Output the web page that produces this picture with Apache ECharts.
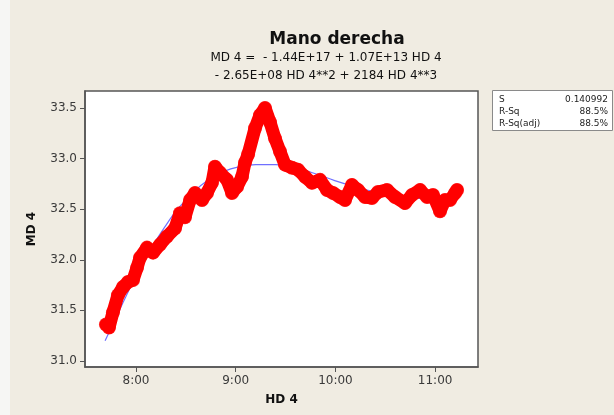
<!DOCTYPE html>
<html>
<head>
<meta charset="utf-8">
<style>
  html, body { margin: 0; padding: 0; background: #F0ECE2; }
  #chart { width: 614px; height: 415px; }
</style>
<script src="https://cdn.jsdelivr.net/npm/echarts@6/dist/echarts.min.js"></script>
</head>
<body>
<div id="chart"></div>
<script>
// time of day in hours (HD 4) and measured MD 4
const hd4 = [7.699, 7.729, 7.769, 7.819, 7.870, 7.920, 7.970, 8.010, 8.040, 8.110,
  8.171, 8.241, 8.311, 8.391, 8.441, 8.491, 8.542, 8.592, 8.662, 8.712,
  8.762, 8.792, 8.843, 8.913, 8.963, 9.013, 9.063, 9.093, 9.124, 9.194,
  9.244, 9.294, 9.344, 9.394, 9.444, 9.494, 9.565, 9.625, 9.695, 9.765,
  9.846, 9.916, 9.976, 10.046, 10.096, 10.166, 10.227, 10.297, 10.367, 10.427,
  10.518, 10.598, 10.698, 10.768, 10.849, 10.919, 10.979, 11.049, 11.099, 11.149,
  11.200, 11.220];
const md4 = [31.36, 31.33, 31.48, 31.65, 31.73, 31.78, 31.80, 31.92, 32.02, 32.12,
  32.07, 32.15, 32.23, 32.31, 32.46, 32.42, 32.59, 32.66, 32.59, 32.66,
  32.76, 32.92, 32.86, 32.79, 32.66, 32.72, 32.82, 32.96, 33.04, 33.30,
  33.43, 33.50, 33.36, 33.20, 33.07, 32.94, 32.91, 32.89, 32.82, 32.76,
  32.79, 32.69, 32.66, 32.62, 32.59, 32.74, 32.69, 32.62, 32.61, 32.67,
  32.69, 32.62, 32.56, 32.64, 32.69, 32.62, 32.64, 32.48, 32.59, 32.59,
  32.66, 32.69];

// fitted cubic
const fitX = [7.69, 7.8, 7.9, 8.0, 8.1, 8.2, 8.3, 8.4, 8.5, 8.6, 8.7, 8.8, 8.9, 9.0,
  9.2, 9.4, 9.6, 9.8, 10.0, 10.2, 10.4, 10.6, 10.8, 11.0, 11.22];
const fitY = [31.20, 31.43, 31.64, 31.84, 32.02, 32.19, 32.34, 32.48, 32.59, 32.69,
  32.77, 32.83, 32.88, 32.91, 32.94, 32.94, 32.91, 32.85, 32.78, 32.72,
  32.67, 32.63, 32.61, 32.60, 32.61];

const xTicks = [8, 9, 10, 11];
const yTicks = [31.0, 31.5, 32.0, 32.5, 33.0, 33.5];

const titleText = 'Mano derecha';
const equation = 'MD 4 =  - 1.44E+17 + 1.07E+13 HD 4\n- 2.65E+08 HD 4**2 + 2184 HD 4**3';
const statNames = ['S', 'R-Sq', 'R-Sq(adj)'];
const statValues = ['0.140992', '88.5%', '88.5%'];

const chart = echarts.init(document.getElementById('chart'));

const points = hd4.map((x, i) => [x, md4[i]]);
const fit = fitX.map((x, i) => [x, fitY[i]]);

const fmtTime = (v) => Math.round(v) + ':00';

const statGraphics = [
  {
    type: 'rect',
    left: 492, top: 90,
    shape: { width: 120, height: 40 },
    style: { fill: '#fff', stroke: '#8a8a8a', lineWidth: 1 },
  },
];
statNames.forEach((n, i) => {
  statGraphics.push({
    type: 'text', left: 499, top: 95 + i * 12,
    style: { text: n, font: '9px "DejaVu Sans"', fill: '#222' },
  });
  statGraphics.push({
    type: 'text', right: 6, top: 95 + i * 12,
    style: { text: statValues[i], font: '9px "DejaVu Sans"', fill: '#222', textAlign: 'right' },
  });
});

const option = {
  backgroundColor: '#F0ECE2',
  animation: false,
  title: [
    {
      text: titleText,
      left: 332, top: 26, textAlign: 'center',
      textStyle: { fontFamily: 'DejaVu Sans', fontSize: 17, fontWeight: 'bold', color: '#111' },
    },
    {
      text: equation,
      left: 321, top: 44, textAlign: 'center',
      textStyle: { fontFamily: 'DejaVu Sans', fontSize: 12, fontWeight: 'normal', color: '#111', lineHeight: 18, align: 'left' },
    },
  ],
  graphic: [
    { type: 'rect', left: 0, top: 0, shape: { width: 10, height: 415 }, style: { fill: '#F6F6F4' } },
    ...statGraphics,
  ],
  grid: {
    left: 85, top: 91, width: 393, height: 276,
    show: true, backgroundColor: '#fff', borderColor: '#555', borderWidth: 1.5,
  },
  xAxis: {
    type: 'value',
    min: 7.4885, max: 11.43,
    name: 'HD 4', nameLocation: 'middle', nameGap: 27,
    nameTextStyle: { fontFamily: 'DejaVu Sans', fontSize: 12, fontWeight: 'bold', color: '#111' },
    splitLine: { show: false },
    axisLine: { show: true, lineStyle: { color: '#555', width: 1.5 } },
    axisTick: { show: true, length: 5, customValues: xTicks, lineStyle: { color: '#555' } },
    axisLabel: {
      customValues: xTicks, formatter: fmtTime, margin: 8,
      fontFamily: 'DejaVu Sans', fontSize: 12, color: '#3a3a3a',
    },
  },
  yAxis: {
    type: 'value',
    min: 30.94, max: 33.668,
    name: 'MD 4', nameLocation: 'middle', nameGap: 47, nameRotate: 90,
    nameTextStyle: { fontFamily: 'DejaVu Sans', fontSize: 12, fontWeight: 'bold', color: '#111' },
    splitLine: { show: false },
    axisLine: { show: true, lineStyle: { color: '#555', width: 1.5 } },
    axisTick: { show: true, length: 5, customValues: yTicks, lineStyle: { color: '#555' } },
    axisLabel: {
      customValues: yTicks, formatter: (v) => v.toFixed(1), margin: 8,
      fontFamily: 'DejaVu Sans', fontSize: 12, color: '#3a3a3a',
    },
  },
  series: [
    {
      name: 'fit', type: 'line', data: fit, smooth: true, showSymbol: false,
      lineStyle: { color: '#6f6fff', width: 1.2 }, z: 1,
    },
    {
      name: 'MD 4', type: 'line', data: points, showSymbol: false,
      lineStyle: { color: '#ff0000', width: 13, cap: 'round', join: 'round' }, z: 2,
    },
    {
      name: 'MD 4 pts', type: 'scatter', data: points, symbolSize: 14,
      itemStyle: { color: '#ff0000' }, z: 3,
    },
  ],
};

chart.setOption(option);
</script>
</body>
</html>
